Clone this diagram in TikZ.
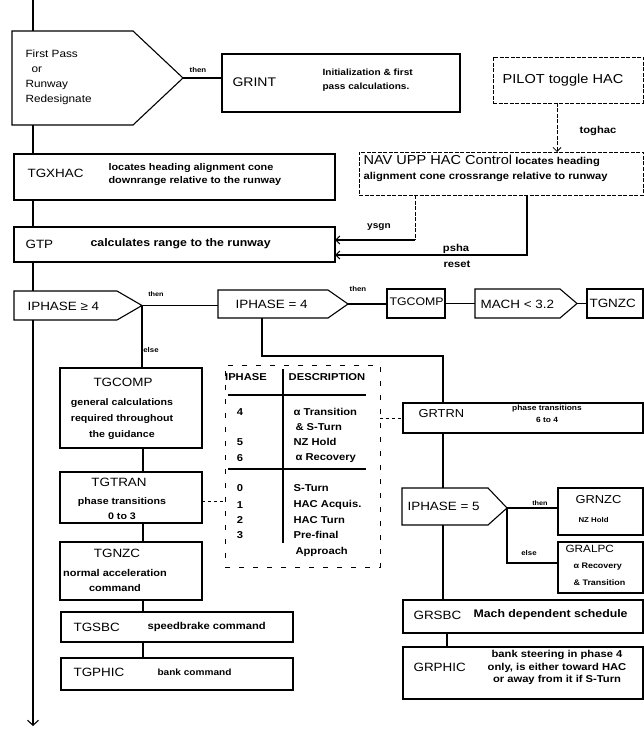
\documentclass[tikz,border=0pt]{standalone}
\usepackage{fontspec}
\setmainfont{Liberation Sans}[FakeStretch=1.12]
\usetikzlibrary{arrows.meta}
\newcommand\fsz[2]{\fontsize{#1}{#2}\selectfont}
\tikzset{
  box/.style={draw, rectangle, inner sep=0pt, outer sep=0pt, anchor=north west},
  dbox/.style={box, line width=0.8pt, dash pattern=on 4pt off 1.5pt},
  lbl/.style={inner sep=0pt, anchor=west, font={\fsz{12}{14}}},
  dsc/.style={inner sep=0pt, align=center, font={\fsz{9.5}{13}\bfseries}},
  cl/.style={inner sep=0pt, font={\fsz{7}{8}\bfseries}},
  tb/.style={inner sep=0pt, font={\fsz{10}{12}\bfseries}},
  arr/.style={-{Straight Barb[length=4pt,width=8pt]}},
}
\begin{document}
\begin{tikzpicture}[x=1pt,y=-1pt,line width=1.1pt]
\fill[white] (0,0) rectangle (644,730);
\useasboundingbox (0,0) rectangle (644,730);

% helper coordinates
\coordinate (top) at (33,0);
\coordinate (trunkend) at (33,726);
\coordinate (tog) at (557,0);
\coordinate (ysc) at (415,240);
\coordinate (psc) at (527,255);
\coordinate (b1) at (262,356);
\coordinate (b2) at (443,356);
\coordinate (g1) at (447,0);
\coordinate (c1) at (143,0);
\coordinate (tl) at (0,501);
\coordinate (tr) at (0,418);
\coordinate (el) at (0,563);

% decision shapes
\draw (12,31) coordinate (fp-nw) -- (133,31) -- (183,78) coordinate (fp-tip) -- (133,125) -- (12,125) coordinate (fp-sw) -- cycle;
\draw (14,291) coordinate (ia-nw) -- (117,291) -- (142,305.5) coordinate (ia-tip) -- (117,320) -- (14,320) coordinate (ia-sw) -- cycle;
\draw (218,290) coordinate (ib-nw) -- (328,290) -- (348,304) coordinate (ib-tip) -- (328,318) -- (218,318) coordinate (ib-sw) -- cycle;
\draw (475,289) coordinate (mc-nw) -- (560,289) -- (577,303.5) coordinate (mc-tip) -- (560,318) -- (475,318) coordinate (mc-sw) -- cycle;
\draw (402,488) coordinate (i5-nw) -- (488,488) -- (507,508) coordinate (i5-tip) -- (488,525) -- (402,525) coordinate (i5-sw) -- cycle;

% boxes
\node[box, minimum width=238pt, minimum height=58pt] (grint) at (222,54) {};
\node[dbox, minimum width=150pt, minimum height=46pt] (pilot) at (493,57) {};
\node[dbox, minimum width=284pt, minimum height=43pt] (nav) at (359,152) {};
\node[box, minimum width=321pt, minimum height=46pt] (tgxhac) at (14,154) {};
\node[box, minimum width=321pt, minimum height=35pt] (gtp) at (14,227) {};
\node[box, minimum width=58pt, minimum height=29pt] (tgcomps) at (387,289) {};
\node[box, minimum width=56pt, minimum height=29pt] (tgnzcs) at (587,289) {};
\node[box, minimum width=240pt, minimum height=30pt] (grtrn) at (403,403) {};
\node[box, minimum width=85pt, minimum height=47pt] (grnzc) at (558,488) {};
\node[box, minimum width=85pt, minimum height=51pt] (gralpc) at (558,542) {};
\node[box, minimum width=240pt, minimum height=33pt] (grsbc) at (403,600) {};
\node[box, minimum width=240pt, minimum height=52pt] (grphic) at (403,647) {};
\node[box, minimum width=142pt, minimum height=80pt] (tgcompb) at (60,368) {};
\node[box, minimum width=142pt, minimum height=51pt] (tgtran) at (60,472) {};
\node[box, minimum width=142pt, minimum height=58pt] (tgnzcb) at (60,542) {};
\node[box, minimum width=232pt, minimum height=30pt] (tgsbc) at (61,612) {};
\node[box, minimum width=232pt, minimum height=32pt] (tgphic) at (61,658) {};
\node[box, line width=0.9pt, dash pattern=on 5pt off 9pt, minimum width=155pt, minimum height=202pt] (table) at (225,365) {};

% table contents
\draw (283,369) -- (283,543);
\draw (228,395) -- (366,395);
\draw (228,469) -- (366,469);
\node[tb] (th1) at (246,377) {IPHASE};
\node[tb] (th2) at (327,377) {DESCRIPTION};
\node[tb] (tn4) at (240,412) {4};
\node[tb] (tn5) at (240,442) {5};
\node[tb] (tn6) at (240,458) {6};
\node[tb] (tn0) at (240,488) {0};
\node[tb] (tn1) at (240,505) {1};
\node[tb] (tn2) at (240,520) {2};
\node[tb] (tn3) at (240,535) {3};
\node[tb, anchor=west] (td4a) at (293,412) {α Transition};
\node[tb, anchor=west] (td4b) at (295,427) {\& S-Turn};
\node[tb, anchor=west] (td5) at (293,442) {NZ Hold};
\node[tb, anchor=west] (td6) at (295,458) {α Recovery};
\node[tb, anchor=west] (td0) at (293,488) {S-Turn};
\node[tb, anchor=west] (td1) at (293,505) {HAC Acquis.};
\node[tb, anchor=west] (td2) at (293,520) {HAC Turn};
\node[tb, anchor=west] (td3) at (293,535) {Pre-final};
\node[tb, anchor=west] (td3b) at (295,552) {Approach};

% texts
\node[inner sep=0pt, anchor=west, align=left, font={\fsz{10.5}{15}}] (fp-t) at (25,77) {First Pass\\\hspace*{6pt}or\\Runway\\Redesignate};
\node[lbl, font={\fsz{12.5}{14}}] (grint-l) at (232,82) {GRINT};
\node[dsc, anchor=west, align=left, font={\fsz{9}{14}\bfseries}] (grint-d) at (322,80) {Initialization \& first\\pass calculations.};
\node[inner sep=0pt, font={\fsz{13}{15}}] (pilot-t) at (563,80) {PILOT toggle HAC};
\node[inner sep=0pt, anchor=west] (nav-t1) at (363,161) {{\fsz{13}{15}NAV UPP HAC Control} {\fsz{10}{12}\bfseries locates heading}};
\node[dsc, anchor=west, font={\fsz{10}{12}\bfseries}] (nav-t2) at (363,177) {alignment cone crossrange relative to runway};
\node[lbl] (tgxhac-l) at (27,173) {TGXHAC};
\node[dsc, anchor=west, align=left, font={\fsz{9.7}{13}\bfseries}] (tgxhac-d) at (108,174.5) {locates heading alignment cone\\downrange relative to the runway};
\node[lbl] (gtp-l) at (25,244) {GTP};
\node[dsc, anchor=west, font={\fsz{11}{13}\bfseries}] (gtp-d) at (90,244) {calculates range to the runway};
\node[lbl] (ia-t) at (27,306) {IPHASE ≥ 4};
\node[lbl] (ib-t) at (235,304) {IPHASE = 4};
\node[lbl, font={\fsz{11}{13}}] (tgcomps-t) at (389,302) {TGCOMP};
\node[lbl] (mc-t) at (480,304) {MACH < 3.2};
\node[lbl] (tgnzcs-t) at (589,303) {TGNZC};
\node[inner sep=0pt, font={\fsz{12}{14}}] (tgcompb-l) at (123,382) {TGCOMP};
\node[dsc, font={\fsz{9.5}{16}\bfseries}] (tgcompb-d) at (122,419) {general calculations\\required throughout\\the guidance};
\node[inner sep=0pt, font={\fsz{12}{14}}] (tgtran-l) at (119,482) {TGTRAN};
\node[dsc, font={\fsz{9.5}{15}\bfseries}] (tgtran-d) at (122,508.5) {phase transitions\\0 to 3};
\node[inner sep=0pt, font={\fsz{12}{14}}] (tgnzcb-l) at (117,553) {TGNZC};
\node[dsc, font={\fsz{9.8}{15}\bfseries}] (tgnzcb-d) at (115,580.5) {normal acceleration\\command};
\node[lbl] (tgsbc-l) at (73,627) {TGSBC};
\node[dsc, anchor=west, font={\fsz{10}{12}\bfseries}] (tgsbc-d) at (147,627) {speedbrake command};
\node[lbl] (tgphic-l) at (73,672) {TGPHIC};
\node[dsc, anchor=west, font={\fsz{9}{11}\bfseries}] (tgphic-d) at (157,672) {bank command};
\node[lbl, font={\fsz{11.5}{13}}] (grtrn-l) at (418,414) {GRTRN};
\node[dsc, font={\fsz{7.5}{12}\bfseries}] (grtrn-d) at (547,414) {phase transitions\\6 to 4};
\node[lbl] (i5-t) at (407,506) {IPHASE = 5};
\node[lbl, font={\fsz{11.5}{13}}] (grnzc-l) at (575,500) {GRNZC};
\node[dsc, anchor=west, font={\fsz{7}{9}\bfseries}] (grnzc-d) at (578,520) {NZ Hold};
\node[lbl, font={\fsz{10.5}{12}}] (gralpc-l) at (565,549) {GRALPC};
\node[dsc, anchor=west, align=left, font={\fsz{8}{17}\bfseries}] (gralpc-d) at (573,574.5) {α Recovery\\\& Transition};
\node[lbl] (grsbc-l) at (413,615) {GRSBC};
\node[dsc, anchor=west, font={\fsz{11}{13}\bfseries}] (grsbc-d) at (473,615) {Mach dependent schedule};
\node[lbl] (grphic-l) at (413,667) {GRPHIC};
\node[dsc, font={\fsz{10}{12.5}\bfseries}] (grphic-d) at (557,667.5) {bank steering in phase 4\\only, is either toward HAC\\or away from it if S-Turn};

% connector labels
\node[cl] (l-then1) at (198,70) {then};
\node[cl, font={\fsz{6.5}{8}\bfseries}] (l-then2) at (156,294) {then};
\node[cl] (l-else1) at (151,350) {else};
\node[cl] (l-then3) at (358,289) {then};
\node[cl, font={\fsz{6.5}{8}\bfseries}] (l-then4) at (540,503) {then};
\node[cl] (l-else2) at (529,553) {else};
\node[cl, font={\fsz{10}{12}\bfseries}] (l-tog) at (598,131) {toghac};
\node[cl, font={\fsz{9}{11}\bfseries}] (l-ysgn) at (379,227) {ysgn};
\node[cl, font={\fsz{10}{12}\bfseries}] (l-psha) at (456,249) {psha};
\node[cl, font={\fsz{10}{12}\bfseries}] (l-reset) at (457,264) {reset};

% trunk
\draw (top) -- (top |- fp-nw);
\draw (top |- fp-sw) -- (top |- tgxhac.north);
\draw (top |- tgxhac.south) -- (top |- gtp.north);
\draw (top |- gtp.south) -- (top |- ia-nw);
\draw[-{Straight Barb[length=5pt,width=11pt]}] (top |- ia-sw) -- (trunkend);

% connectors
\draw (fp-tip) -- (grint.west |- fp-tip);
\draw[arr, line width=0.8pt, dash pattern=on 4pt off 1.5pt] (pilot.south -| tog) -- (nav.north -| tog);
\draw[line width=0.8pt, dash pattern=on 4pt off 1.5pt] (nav.south -| ysc) -- (ysc);
\draw[arr] (ysc) -- (gtp.east |- ysc);
\draw[arr] (nav.south -| psc) -- (psc) -- (gtp.east |- psc);
\draw (ia-tip) -- (ib-nw |- ia-tip);
\draw (ia-tip) -- (ia-tip |- tgcompb.north);
\draw (ib-tip) -- (tgcomps.west |- ib-tip);
\draw (tgcomps.east) -- (mc-nw |- tgcomps.east);
\draw (mc-tip) -- (tgnzcs.west |- mc-tip);
\draw (b1 |- ib-sw) -- (b1) -- (b2) -- (b2 |- grtrn.north);
\draw[line width=0.9pt, dash pattern=on 3pt off 3pt] (tgtran.east |- tl) -- (table.west |- tl);
\draw[line width=0.9pt, dash pattern=on 3pt off 3pt] (table.east |- tr) -- (grtrn.west |- tr);
\draw (b2 |- grtrn.south) -- (b2 |- i5-nw);
\draw (b2 |- i5-sw) -- (b2 |- grsbc.north);
\draw (i5-tip) -- (grnzc.west |- i5-tip);
\draw (i5-tip) -- (i5-tip |- el) -- (gralpc.west |- el);
\draw (grsbc.south -| g1) -- (grphic.north -| g1);
\draw (tgcompb.south -| c1) -- (tgtran.north -| c1);
\draw (tgtran.south -| c1) -- (tgnzcb.north -| c1);
\draw (tgnzcb.south -| c1) -- (tgsbc.north -| c1);
\draw (tgsbc.south -| c1) -- (tgphic.north -| c1);
\end{tikzpicture}
\end{document}
